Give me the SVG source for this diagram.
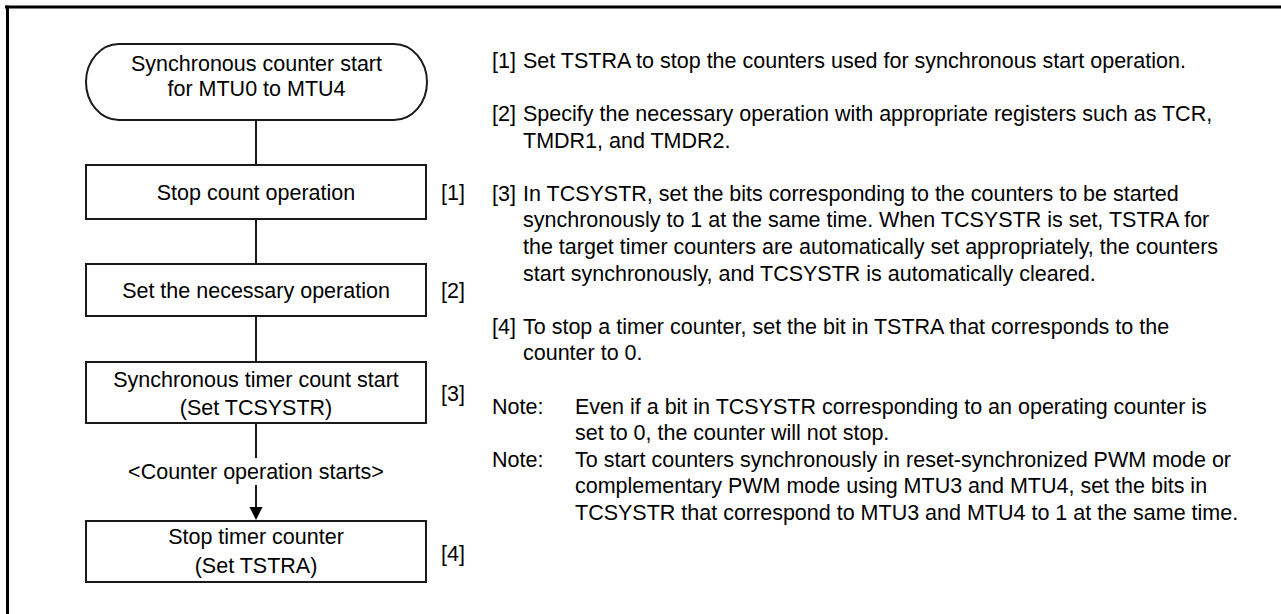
<svg xmlns="http://www.w3.org/2000/svg" width="1281" height="614" viewBox="0 0 1281 614">
<defs>
<style>
text{font-family:"Liberation Sans",Arial,sans-serif;font-size:21.5px;fill:#000}
.c{text-anchor:middle}
.box{fill:#fff;stroke:#1a1a1a;stroke-width:2}
.ln{stroke:#1a1a1a;stroke-width:2;fill:none}
</style>
</defs>
<rect width="1281" height="614" fill="#fff"/>
<g id="frame">
<line x1="5" y1="7" x2="1281" y2="7" stroke="#000" stroke-width="3"/>
<line x1="7.5" y1="5.5" x2="7.5" y2="614" stroke="#000" stroke-width="3"/>
</g>
<g id="connectors">
<line class="ln" x1="256" y1="120" x2="256" y2="165"/>
<line class="ln" x1="256" y1="219" x2="256" y2="264"/>
<line class="ln" x1="256" y1="316" x2="256" y2="362"/>
<line class="ln" x1="256" y1="423" x2="256" y2="458"/>
<line class="ln" x1="256" y1="485" x2="256" y2="508"/>
<path d="M249.5,507 L262.5,507 L256,520 Z" fill="#000"/>
<text class="c" x="256" y="479">&lt;Counter operation starts&gt;</text>
</g>
<g id="start">
<path class="box" d="M119,44 L394,44 A33,38 0 0 1 394,120 L119,120 A33,38 0 0 1 119,44 Z"/>
<text class="c" x="256.5" y="71">Synchronous counter start</text>
<text class="c" x="256.5" y="96">for MTU0 to MTU4</text>
</g>
<g id="step1">
<rect class="box" x="86" y="165" width="340" height="54"/>
<text class="c" x="256" y="199.5">Stop count operation</text>
<text x="441" y="199.5">[1]</text>
</g>
<g id="step2">
<rect class="box" x="86" y="264" width="340" height="52"/>
<text class="c" x="256" y="297.5">Set the necessary operation</text>
<text x="441" y="297.5">[2]</text>
</g>
<g id="step3">
<rect class="box" x="86" y="362" width="340" height="61"/>
<text class="c" x="256" y="387">Synchronous timer count start</text>
<text class="c" x="256" y="415">(Set TCSYSTR)</text>
<text x="441" y="401">[3]</text>
</g>
<g id="step4">
<rect class="box" x="86" y="521" width="340" height="61"/>
<text class="c" x="256" y="544">Stop timer counter</text>
<text class="c" x="256" y="572.5">(Set TSTRA)</text>
<text x="441" y="561">[4]</text>
</g>
<g id="notes">
<text x="492" y="67.7">[1]</text>
<text x="523" y="67.7">Set TSTRA to stop the counters used for synchronous start operation.</text>
<text x="492" y="120.9">[2]</text>
<text x="523" y="120.9">Specify the necessary operation with appropriate registers such as TCR,</text>
<text x="523" y="147.5">TMDR1, and TMDR2.</text>
<text x="492" y="200.7">[3]</text>
<text x="523" y="200.7">In TCSYSTR, set the bits corresponding to the counters to be started</text>
<text x="523" y="227.3">synchronously to 1 at the same time. When TCSYSTR is set, TSTRA for</text>
<text x="523" y="253.9">the target timer counters are automatically set appropriately, the counters</text>
<text x="523" y="280.5">start synchronously, and TCSYSTR is automatically cleared.</text>
<text x="492" y="333.7">[4]</text>
<text x="523" y="333.7">To stop a timer counter, set the bit in TSTRA that corresponds to the</text>
<text x="523" y="360.3">counter to 0.</text>
<text x="492" y="413.5">Note:</text>
<text x="575" y="413.5">Even if a bit in TCSYSTR corresponding to an operating counter is</text>
<text x="575" y="440.1">set to 0, the counter will not stop.</text>
<text x="492" y="466.7">Note:</text>
<text x="575" y="466.7">To start counters synchronously in reset-synchronized PWM mode or</text>
<text x="575" y="493.3">complementary PWM mode using MTU3 and MTU4, set the bits in</text>
<text x="575" y="519.9">TCSYSTR that correspond to MTU3 and MTU4 to 1 at the same time.</text>
</g>
</svg>
